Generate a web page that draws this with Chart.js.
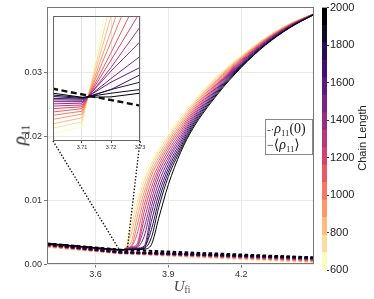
<!DOCTYPE html>
<html><head><meta charset="utf-8">
<script src="https://cdn.jsdelivr.net/npm/chart.js@4.4.1/dist/chart.umd.min.js"></script>
<style>
html,body{margin:0;padding:0;background:#fff;}
#wrap{position:relative;width:374px;height:299px;overflow:hidden;background:#fff;}
canvas{position:absolute;left:0;top:0;}
.txt{position:absolute;white-space:nowrap;color:#222;line-height:1;}
.serif{font-family:'Liberation Serif','DejaVu Serif',serif;}
sub{font-size:0.62em;vertical-align:-0.32em;line-height:0;font-style:normal;}
</style></head><body>
<div id="wrap">
<canvas id="main" width="374" height="299"></canvas>
<canvas id="cbar" width="374" height="299"></canvas>
<canvas id="inset" width="374" height="299"></canvas>
<div class="txt serif" id="ytitle" style="left:19px;top:135px;font-size:19px;transform:translate(-50%,-50%) rotate(-90deg);"><i>ρ</i><sub>11</sub></div>
<div class="txt serif" id="xtitle" style="left:182px;top:286px;font-size:15px;transform:translate(-50%,-50%);color:#444;"><i>U</i><sub>fi</sub></div>
<div class="txt" id="cbtitle" style="left:362px;top:138px;font-size:11px;font-family:'Liberation Sans',Arial,sans-serif;transform:translate(-50%,-50%) rotate(-90deg);">Chain Length</div>
<div class="txt serif" id="legend" style="left:265px;top:119px;width:46px;height:34px;border:1px solid #888;background:#fff;font-size:14px;color:#222;">
  <div style="position:absolute;left:1px;top:2px;"><span style="font-size:11px;">-·</span><i>ρ</i><sub>11</sub>(0)</div>
  <div style="position:absolute;left:1px;top:18px;"><span style="font-size:12px;">−</span>⟨<i>ρ</i><sub>11</sub>⟩</div>
</div>
</div>
<script>
// ---------- data ----------
const chainLengths = [600,700,800,900,1000,1100,1200,1300,1400,1500,1600,1700,1800,1900,2000];
const U = [3.40,3.55,3.70,3.71,3.72,3.73,3.75,3.77,3.80,3.83,3.86,3.90,3.95,4.00,4.10,4.20,4.30,4.40,4.50];
// <rho_11> for each chain length
const rhoMean600  = [0.00290,0.00250,0.002200,0.002219,0.00261,0.00450,0.00780,0.01050,0.01400,0.01630,0.01830,0.02060,0.02320,0.02550,0.02950,0.03270,0.03550,0.03770,0.03920];
const rhoMean700  = [0.00295,0.00254,0.002215,0.002232,0.00256,0.00300,0.00650,0.00943,0.01308,0.01570,0.01777,0.02007,0.02279,0.02519,0.02929,0.03256,0.03541,0.03765,0.03920];
const rhoMean800  = [0.00300,0.00257,0.002227,0.002243,0.00252,0.00290,0.00521,0.00838,0.01217,0.01510,0.01725,0.01964,0.02239,0.02489,0.02907,0.03243,0.03533,0.03760,0.03920];
const rhoMean900  = [0.00304,0.00261,0.002239,0.002253,0.00248,0.00271,0.00382,0.00721,0.01125,0.01449,0.01673,0.01920,0.02198,0.02458,0.02886,0.03229,0.03524,0.03755,0.03920];
const rhoMean1000 = [0.00308,0.00264,0.002250,0.002261,0.00245,0.00264,0.00310,0.00592,0.01031,0.01384,0.01619,0.01877,0.02157,0.02427,0.02864,0.03216,0.03516,0.03750,0.03920];
const rhoMean1100 = [0.00311,0.00266,0.002259,0.002268,0.00242,0.00258,0.00290,0.00462,0.00924,0.01292,0.01559,0.01834,0.02116,0.02396,0.02843,0.03202,0.03507,0.03745,0.03920];
const rhoMean1200 = [0.00315,0.00269,0.002268,0.002273,0.00240,0.00253,0.00279,0.00315,0.00819,0.01201,0.01499,0.01783,0.02076,0.02366,0.02821,0.03189,0.03499,0.03740,0.03920];
const rhoMean1300 = [0.00317,0.00270,0.002275,0.002278,0.00238,0.00249,0.00270,0.00290,0.00698,0.01108,0.01438,0.01730,0.02035,0.02335,0.02800,0.03175,0.03490,0.03735,0.03920];
const rhoMean1400 = [0.00319,0.00272,0.002281,0.002283,0.00237,0.00245,0.00261,0.00278,0.00567,0.01011,0.01366,0.01677,0.01994,0.02304,0.02779,0.03161,0.03481,0.03730,0.03910];
const rhoMean1500 = [0.00322,0.00274,0.002287,0.002287,0.00235,0.00241,0.00254,0.00267,0.00437,0.00906,0.01275,0.01625,0.01954,0.02274,0.02757,0.03148,0.03473,0.03725,0.03910];
const rhoMean1600 = [0.00323,0.00275,0.002292,0.002291,0.00234,0.00238,0.00247,0.00256,0.00287,0.00799,0.01183,0.01564,0.01913,0.02243,0.02736,0.03134,0.03464,0.03720,0.03910];
const rhoMean1700 = [0.00325,0.00276,0.002296,0.002294,0.00232,0.00236,0.00242,0.00248,0.00257,0.00674,0.01092,0.01504,0.01872,0.02212,0.02714,0.03121,0.03456,0.03715,0.03910];
const rhoMean1800 = [0.00327,0.00278,0.002301,0.002296,0.00232,0.00234,0.00238,0.00242,0.00270,0.00544,0.00992,0.01444,0.01831,0.02181,0.02693,0.03107,0.03447,0.03710,0.03910];
const rhoMean1900 = [0.00328,0.00279,0.002305,0.002298,0.00231,0.00232,0.00234,0.00236,0.00250,0.00420,0.00887,0.01376,0.01791,0.02151,0.02671,0.03094,0.03439,0.03705,0.03910];
const rhoMean2000 = [0.00330,0.00280,0.002310,0.002299,0.00230,0.00231,0.00232,0.00233,0.00240,0.00310,0.00720,0.01250,0.01750,0.02120,0.02650,0.03080,0.03430,0.03700,0.03910];
// rho_11(0) for each chain length
const U0 = [3.40,3.70,4.50];
const rhoZero600  = [0.00270,0.00170,0.00025];
const rhoZero700  = [0.00276,0.00173,0.00037];
const rhoZero800  = [0.00281,0.00176,0.00046];
const rhoZero900  = [0.00286,0.00179,0.00055];
const rhoZero1000 = [0.00290,0.00181,0.00064];
const rhoZero1100 = [0.00294,0.00183,0.00070];
const rhoZero1200 = [0.00298,0.00185,0.00078];
const rhoZero1300 = [0.00301,0.00187,0.00083];
const rhoZero1400 = [0.00304,0.00188,0.00088];
const rhoZero1500 = [0.00307,0.00190,0.00092];
const rhoZero1600 = [0.00309,0.00191,0.00096];
const rhoZero1700 = [0.00311,0.00192,0.00099];
const rhoZero1800 = [0.00313,0.00193,0.00103];
const rhoZero1900 = [0.00315,0.00194,0.00106];
const rhoZero2000 = [0.00330,0.002322,0.00110];
// ticks / ranges
const xTicks = [3.6,3.9,4.2];
const yTicks = [0,0.01,0.02,0.03];
const insetXTicks = [3.71,3.72,3.73];
const cbarTicks = [600,800,1000,1200,1400,1600,1800,2000];
const mainXRange = [3.4,4.5], mainYRange = [0,0.0402];
const insetXRange = [3.70,3.73], insetYRange = [0.00218,0.00252];

const rhoMeanSeries = [rhoMean600,rhoMean700,rhoMean800,rhoMean900,rhoMean1000,rhoMean1100,rhoMean1200,rhoMean1300,rhoMean1400,rhoMean1500,rhoMean1600,rhoMean1700,rhoMean1800,rhoMean1900,rhoMean2000];
const rhoZeroSeries = [rhoZero600,rhoZero700,rhoZero800,rhoZero900,rhoZero1000,rhoZero1100,rhoZero1200,rhoZero1300,rhoZero1400,rhoZero1500,rhoZero1600,rhoZero1700,rhoZero1800,rhoZero1900,rhoZero2000];

// ---------- colours (magma) ----------
const MAGMA = ['#000004','#140e36','#3b0f70','#641a80','#8c2981','#b73779','#de4968','#f7705c','#fe9f6d','#fecf92','#fcfdbf'];
function hx(h){return [parseInt(h.slice(1,3),16),parseInt(h.slice(3,5),16),parseInt(h.slice(5,7),16)];}
function magma(t){t=Math.max(0,Math.min(1,t));const p=t*10;const i=Math.min(9,Math.floor(p));const f=p-i;const a=hx(MAGMA[i]),b=hx(MAGMA[i+1]);
  return 'rgb('+a.map((v,j)=>Math.round(v+(b[j]-v)*f)).join(',')+')';}
const cMin = chainLengths[0], cMax = chainLengths[chainLengths.length-1];
function colorFor(L){return magma(1-(L-cMin)/(cMax-cMin));}
const pts = (xs,ys)=>xs.map((x,i)=>({x:x,y:ys[i]}));

const framePlugin = {id:'frame', afterDraw(chart,args,opts){const {ctx,chartArea:a}=chart;ctx.save();ctx.strokeStyle=opts.color||'#777';ctx.lineWidth=opts.width||1;
  ctx.strokeRect(Math.round(a.left)+0.5,Math.round(a.top)+0.5,Math.round(a.right-a.left)-1,Math.round(a.bottom-a.top)-1);ctx.restore();}};

// ---------- inset ----------
const insetSets = [];
insetSets.push({data:pts(U0,rhoZero2000),borderColor:'#111',borderWidth:2.4,borderDash:[6,3.5],pointRadius:0});
for(let k=chainLengths.length-1;k>=0;k--){
  insetSets.push({data:pts(U,rhoMeanSeries[k]),borderColor:colorFor(chainLengths[k]),borderWidth:1,pointRadius:0});
}
const insetChart = new Chart(document.getElementById('inset'),{
  type:'line', data:{datasets:insetSets}, plugins:[framePlugin],
  options:{responsive:false,animation:false,devicePixelRatio:1,
    layout:{padding:{left:53,top:16,right:234,bottom:0}},
    elements:{line:{tension:0}},
    plugins:{legend:{display:false},tooltip:{enabled:false},frame:{color:'#666',width:1}},
    scales:{
      x:{type:'linear',min:insetXRange[0],max:insetXRange[1],
        afterBuildTicks:s=>{s.ticks=insetXTicks.map(v=>({value:v}));},
        afterFit:s=>{s.height=299-141;},
        ticks:{font:{size:5.5,family:'Liberation Sans'},color:'#333',padding:1,maxRotation:0,callback:v=>Number(v).toFixed(2)},
        grid:{color:'#e4e4e4',tickColor:'#555',tickLength:2},border:{display:false}},
      y:{display:false,min:insetYRange[0],max:insetYRange[1]}
    }}
});

// ---------- main ----------
const connectorPlugin = {id:'connectors', afterDraw(chart){
  const ia = insetChart.chartArea; const xs=chart.scales.x, ys=chart.scales.y; const ctx=chart.ctx;
  const x0=xs.getPixelForValue(insetXRange[0]), x1=xs.getPixelForValue(insetXRange[1]), yb=ys.getPixelForValue(insetYRange[0]);
  ctx.save();ctx.strokeStyle='#111';ctx.lineWidth=1.4;ctx.setLineDash([1.4,1.8]);
  ctx.beginPath();ctx.moveTo(ia.left,ia.bottom);ctx.lineTo(x0,yb);ctx.moveTo(ia.right,ia.bottom);ctx.lineTo(x1,yb);ctx.stroke();ctx.restore();}};

const mainSets = [];
for(let k=chainLengths.length-1;k>=0;k--){
  mainSets.push({data:pts(U0,rhoZeroSeries[k]),borderColor:colorFor(chainLengths[k]),borderWidth:2,borderDash:[3.5,2.5],pointRadius:0});
}
for(let k=chainLengths.length-1;k>=0;k--){
  mainSets.push({data:pts(U,rhoMeanSeries[k]),borderColor:colorFor(chainLengths[k]),borderWidth:1,pointRadius:0,cubicInterpolationMode:'monotone'});
}
new Chart(document.getElementById('main'),{
  type:'line', data:{datasets:mainSets}, plugins:[framePlugin,connectorPlugin],
  options:{responsive:false,animation:false,devicePixelRatio:1,
    layout:{padding:{left:0,top:6,right:60,bottom:0}},
    elements:{line:{tension:0}},
    plugins:{legend:{display:false},tooltip:{enabled:false},frame:{color:'#777',width:1}},
    scales:{
      x:{type:'linear',min:mainXRange[0],max:mainXRange[1],
        afterBuildTicks:s=>{s.ticks=xTicks.map(v=>({value:v}));},
        afterFit:s=>{s.height=34.5;},
        ticks:{font:{size:9,family:'Liberation Sans'},color:'#333',padding:2,maxRotation:0,callback:v=>Number(v).toFixed(1)},
        grid:{color:'#e9e9e9',tickColor:'#777',tickLength:3},border:{display:false}},
      y:{min:mainYRange[0],max:mainYRange[1],
        afterBuildTicks:s=>{s.ticks=yTicks.map(v=>({value:v}));},
        afterFit:s=>{s.width=47;},
        ticks:{font:{size:9,family:'Liberation Sans'},color:'#333',padding:2,callback:v=>Number(v).toFixed(2)},
        grid:{color:'#e9e9e9',tickColor:'#777',tickLength:3},border:{display:false}}
    }}
});

// ---------- colour bar ----------
const nB = chainLengths.length;
const cbSets = chainLengths.map((L,i)=>({data:[[cMin+(cMax-cMin)*i/nB, cMin+(cMax-cMin)*(i+1)/nB]],backgroundColor:colorFor(L),borderWidth:0,grouped:false,barPercentage:1,categoryPercentage:1}));
new Chart(document.getElementById('cbar'),{
  type:'bar', data:{labels:['Chain Length'],datasets:cbSets},
  options:{responsive:false,animation:false,devicePixelRatio:1,
    layout:{padding:{left:322,top:7,right:0,bottom:29}},
    plugins:{legend:{display:false},tooltip:{enabled:false}},
    scales:{
      x:{display:false},
      y:{position:'right',min:cMin,max:cMax,
        afterBuildTicks:s=>{s.ticks=cbarTicks.map(v=>({value:v}));},
        afterFit:s=>{s.width=47;},
        ticks:{font:{size:11,family:'Liberation Sans'},color:'#222',padding:1,callback:v=>String(v)},
        grid:{drawOnChartArea:false,tickLength:2,tickColor:'#333'},border:{display:false}}
    }}
});
</script>
</body></html>
